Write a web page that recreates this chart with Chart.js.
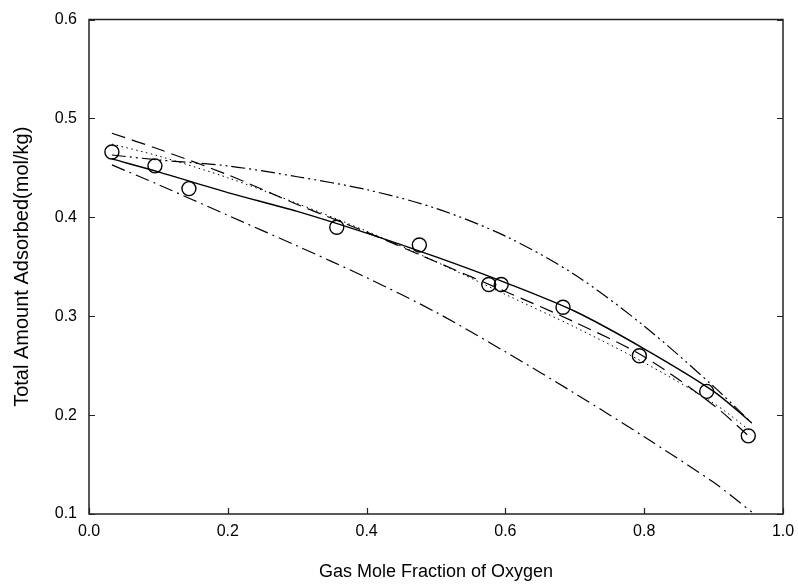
<!DOCTYPE html>
<html>
<head>
<meta charset="utf-8">
<script src="https://cdn.jsdelivr.net/npm/chart.js@4/dist/chart.umd.min.js"></script>
<style>
  html, body { margin: 0; padding: 0; background: #fff; }
  canvas { display: block; }
</style>
</head>
<body>
<canvas id="adsChart" width="798" height="587"></canvas>
<script>
// measured points (circles)
const expX = [0.033, 0.095, 0.144, 0.357, 0.476, 0.576, 0.594, 0.683, 0.793, 0.890, 0.950];
const expY = [0.466, 0.452, 0.429, 0.390, 0.372, 0.332, 0.332, 0.309, 0.260, 0.224, 0.179];

// model curves, all sampled at the same mole fractions
const curveX = [0.033, 0.1, 0.2, 0.3, 0.4, 0.5, 0.6, 0.7, 0.8, 0.9, 0.955];
const solidY = [0.459, 0.446, 0.425, 0.406, 0.384, 0.360, 0.334, 0.305, 0.267, 0.224, 0.192];
const dashY = [0.485, 0.469, 0.443, 0.413, 0.385, 0.355, 0.325, 0.294, 0.259, 0.210, 0.176];
const dotY = [0.474, 0.462, 0.440, 0.414, 0.386, 0.355, 0.322, 0.289, 0.253, 0.212, 0.183];
const dashDotDotY = [0.463, 0.458, 0.452, 0.441, 0.428, 0.409, 0.381, 0.342, 0.290, 0.229, 0.192];
const dashDotY = [0.453, 0.433, 0.402, 0.371, 0.339, 0.304, 0.264, 0.222, 0.178, 0.132, 0.102];

const xTicks = [0.0, 0.2, 0.4, 0.6, 0.8, 1.0];
const yTicks = [0.1, 0.2, 0.3, 0.4, 0.5, 0.6];

const FONT = "'Liberation Sans', Arial, sans-serif";

function pairs(xs, ys) {
  return xs.map((x, i) => ({ x, y: ys[i] }));
}

function curve(ys, dash, width) {
  return {
    data: pairs(curveX, ys),
    showLine: true,
    borderColor: "#000",
    borderWidth: width || 1.2,
    borderDash: dash,
    pointRadius: 0,
    tension: 0.3,
    fill: false
  };
}

/* ---------------------------------------------------
    inward ticks + box frame
---------------------------------------------------- */
const frameTicks = {
  id: "frameTicks",
  afterDatasetsDraw(chart) {
    const { ctx, chartArea: a, scales } = chart;
    ctx.save();
    ctx.strokeStyle = "#222";
    ctx.lineWidth = 1.5;
    ctx.strokeRect(a.left, a.top, a.right - a.left, a.bottom - a.top);
    ctx.lineWidth = 1.2;
    ctx.beginPath();
    xTicks.forEach(v => {
      const px = Math.round(scales.x.getPixelForValue(v)) + 0.5;
      ctx.moveTo(px, a.bottom);
      ctx.lineTo(px, a.bottom - 6);
    });
    yTicks.forEach(v => {
      const py = Math.round(scales.y.getPixelForValue(v)) + 0.5;
      ctx.moveTo(a.left, py);
      ctx.lineTo(a.left + 6, py);
      ctx.moveTo(a.right, py);
      ctx.lineTo(a.right - 6, py);
    });
    ctx.stroke();
    ctx.restore();
  }
};

new Chart(document.getElementById("adsChart"), {
  type: "scatter",
  data: {
    datasets: [
      curve(solidY, [], 1.4),
      curve(dashY, [14, 7]),
      curve(dotY, [1.5, 3.5], 1),
      curve(dashDotDotY, [14, 4, 2, 4, 2, 4]),
      curve(dashDotY, [14, 5, 2, 5]),
      {
        data: pairs(expX, expY),
        showLine: false,
        pointStyle: "circle",
        pointRadius: 7,
        pointBorderWidth: 1.4,
        pointBorderColor: "#000",
        pointBackgroundColor: "rgba(0,0,0,0)"
      }
    ]
  },
  plugins: [frameTicks],
  options: {
    responsive: false,
    animation: false,
    layout: { padding: { top: 19.5, right: 15, left: 0, bottom: 0 } },
    plugins: { legend: { display: false }, tooltip: { enabled: false } },
    scales: {
      x: {
        type: "linear",
        min: 0,
        max: 1,
        afterBuildTicks: s => { s.ticks = xTicks.map(value => ({ value })); },
        afterFit: s => { s.height = 73; s.paddingLeft = 0; s.paddingRight = 0; },
        grid: { display: false, drawTicks: false },
        border: { display: false },
        ticks: {
          padding: 8,
          color: "#000",
          font: { family: FONT, size: 16 },
          callback: v => v.toFixed(1)
        },
        title: {
          display: true,
          text: "Gas Mole Fraction of Oxygen",
          color: "#000",
          font: { family: FONT, size: 18 },
          padding: { top: 14 }
        }
      },
      y: {
        type: "linear",
        min: 0.1,
        max: 0.6,
        afterBuildTicks: s => { s.ticks = yTicks.map(value => ({ value })); },
        afterFit: s => { s.width = 89; s.paddingTop = 0; s.paddingBottom = 0; },
        grid: { display: false, drawTicks: false },
        border: { display: false },
        ticks: {
          padding: 12,
          color: "#000",
          font: { family: FONT, size: 16 },
          callback: v => v.toFixed(1)
        },
        title: {
          display: true,
          text: "Total Amount Adsorbed(mol/kg)",
          color: "#000",
          font: { family: FONT, size: 20 },
          padding: { top: 10, bottom: 4 }
        }
      }
    }
  }
});
</script>
</body>
</html>
